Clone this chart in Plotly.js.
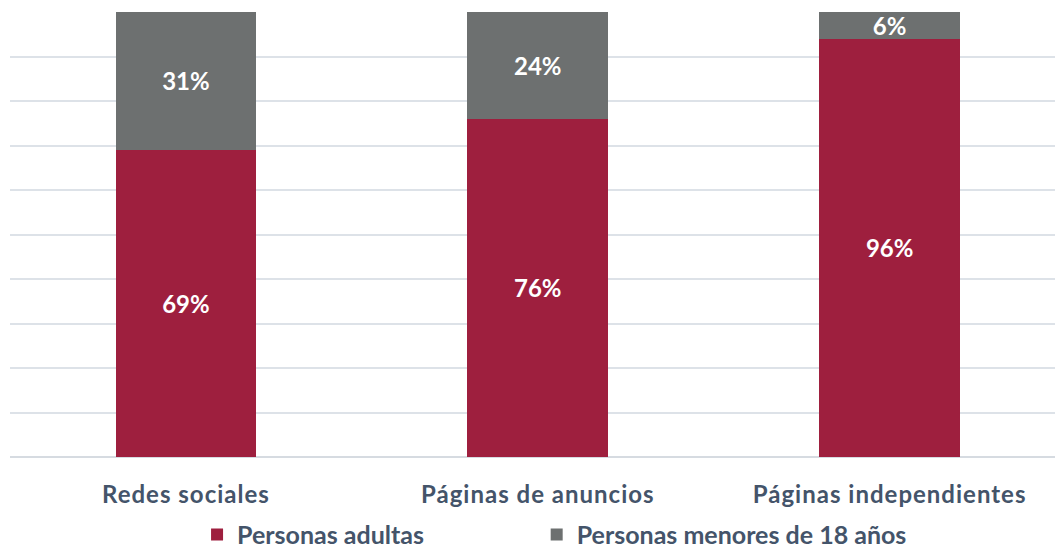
<!DOCTYPE html>
<html>
<head>
<meta charset="utf-8">
<script src="https://cdn.plot.ly/plotly-3.0.1.min.js"></script>
<style>
  html, body { margin: 0; padding: 0; background: #fff; }
  #myDiv { width: 1055px; height: 548px; }
  #myDiv .xtick text { letter-spacing: 1px; }
</style>
</head>
<body>
<div id="myDiv"></div>
<script>
var categories = ['Redes sociales', 'Páginas de anuncios', 'Páginas independientes'];
// bar heights as drawn (third adult bar is drawn at ~94 but labelled 96%)
var adultos = [69, 76, 94];
var menores = [31, 24, 6];
var adultosLabels = ['69%', '76%', '96%'];
var menoresLabels = ['31%', '24%', '6%'];
var seriesNames = ['Personas adultas', 'Personas menores de 18 años'];

var fontFamily = 'Lato, "Open Sans", sans-serif';
var labelFont = { family: fontFamily, size: 24, color: '#44546A', weight: 700 };
var legendFont = { family: fontFamily, size: 25, color: '#44546A', weight: 700 };
var barTextFont = { family: fontFamily, size: 24, color: '#ffffff', weight: 700 };

var trace1 = {
    x: categories,
    y: adultos,
    name: seriesNames[0],
    type: 'bar',
    width: 0.4,
    marker: { color: '#9E1F3E' },
    text: adultosLabels,
    textposition: 'inside',
    insidetextanchor: 'middle',
    constraintext: 'none',
    textfont: barTextFont,
    hoverinfo: 'none',
    legend: 'legend'
};

var trace2 = {
    x: categories,
    y: menores,
    name: seriesNames[1],
    type: 'bar',
    width: 0.4,
    marker: { color: '#6D7070' },
    text: menoresLabels,
    textposition: 'inside',
    insidetextanchor: 'middle',
    constraintext: 'none',
    textfont: barTextFont,
    hoverinfo: 'none',
    legend: 'legend2'
};

var legendBase = {
    orientation: 'h',
    xanchor: 'left',
    yref: 'container',
    y: 0.024,
    yanchor: 'middle',
    font: legendFont,
    itemwidth: 30,
    bgcolor: 'rgba(0,0,0,0)'
};

var data = [trace1, trace2];
var div = document.getElementById('myDiv');
var layout = {
    width: 1055,
    height: 548,
    barmode: 'stack',
    showlegend: true,
    paper_bgcolor: '#ffffff',
    plot_bgcolor: '#ffffff',
    xaxis: {
        range: [-0.5, 2.47],
        showgrid: false,
        zeroline: false,
        showline: false,
        ticks: '',
        ticklabelstandoff: 21,
        tickfont: labelFont,
        fixedrange: true
    },
    yaxis: {
        range: [0, 100],
        dtick: 10,
        showticklabels: false,
        showgrid: true,
        gridcolor: '#DDE2E8',
        gridwidth: 1.5,
        zeroline: true,
        zerolinecolor: '#D6DBE1',
        zerolinewidth: 1.5,
        fixedrange: true
    },
    legend: Object.assign({}, legendBase, { x: 0.179 }),
    legend2: Object.assign({}, legendBase, { x: 0.504 }),
    margin: {
        l: 10,
        r: 0,
        b: 91,
        t: 12,
        pad: 0
    }
};

var config = {
    responsive: false,
    displayModeBar: false
};
Plotly.newPlot(div, data, layout, config);
</script>
</body>
</html>
